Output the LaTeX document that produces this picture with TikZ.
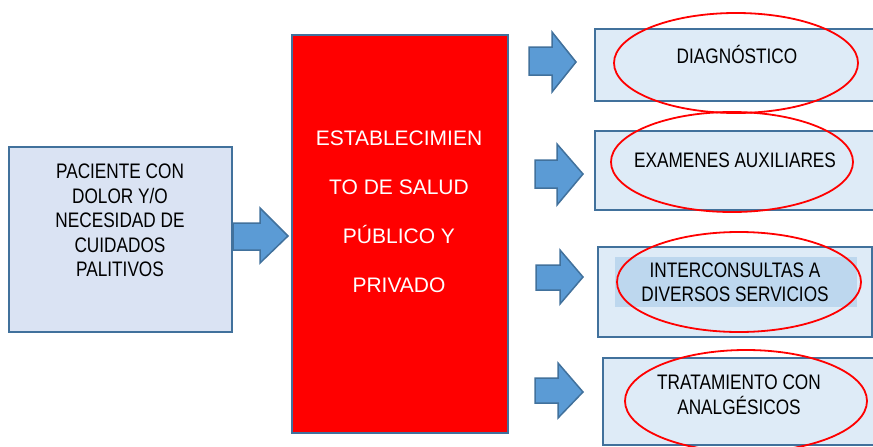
\documentclass[tikz,border=0pt]{standalone}
\usepackage{fontspec}
\setmainfont{Liberation Sans}
\newfontfamily\narrowfont[FakeStretch=0.82]{Liberation Sans}
\usetikzlibrary{shapes.geometric}
\definecolor{boxfillL}{HTML}{DAE3F3}
\definecolor{boxfillR}{HTML}{DEEBF7}
\definecolor{boxline}{HTML}{41719C}
\definecolor{arrowfill}{HTML}{5B9BD5}
\definecolor{hilite}{HTML}{BDD7EE}
\tikzset{
  bluebox/.style={draw=boxline, line width=1.8pt, rectangle, inner sep=0pt},
  redbox/.style={draw=boxline, fill=red, line width=1.2pt, rectangle, inner sep=0pt},
  oval/.style={draw=red, line width=1.8pt, ellipse, inner sep=0pt},
  narrowtxt/.style={font=\narrowfont\fontsize{21}{24.5}\selectfont, align=center, inner sep=0pt},
  redtxt/.style={font=\fontsize{21}{49}\selectfont, text=white, align=center, inner sep=0pt},
  blockarrow/.style={draw=boxline, fill=arrowfill, line width=1.5pt, line join=miter},
}
% shaft x0, shaft x1, shaft y0, shaft y1, head y0, head y1, tip x, tip y
\newcommand{\blockarr}[8]{%
  \draw[blockarrow] (#1,#3) -- (#2,#3) -- (#2,#5) -- (#7,#8) -- (#2,#6) -- (#2,#4) -- (#1,#4) -- cycle;}
\begin{document}
\begin{tikzpicture}[x=1pt,y=-1pt]
\clip (0,0) rectangle (873,447);
\fill[white] (0,0) rectangle (873,447);

% left box
\node[bluebox, fill=boxfillL, minimum width=223pt, minimum height=185pt] (pac) at (120.5,239.5) {};
\node[narrowtxt] (pactxt) at (120,220.5) {PACIENTE CON\\DOLOR Y/O\\NECESIDAD DE\\CUIDADOS\\PALITIVOS};

% red box
\node[redbox, minimum width=216pt, minimum height=398pt] (est) at (400,234) {};
\node[redtxt] (esttxt) at (399,211.5) {ESTABLECIMIEN\\TO DE SALUD\\PÚBLICO Y\\PRIVADO};

% right boxes
\node[bluebox, fill=boxfillR, minimum width=285pt, minimum height=72pt] (b1) at (737.5,65) {};
\node[bluebox, fill=boxfillR, minimum width=285pt, minimum height=79pt] (b2) at (737.5,170.5) {};
\node[bluebox, fill=boxfillR, minimum width=274pt, minimum height=90pt] (b3) at (735,292) {};
\node[bluebox, fill=boxfillR, minimum width=277pt, minimum height=87pt] (b4) at (741.5,401.5) {};
\fill[hilite] (615,257) rectangle (857,307);

% texts
\node[narrowtxt] (t1) at (737,54) {DIAGNÓSTICO};
\node[narrowtxt] (t2) at (735,160) {EXAMENES AUXILIARES};
\node[narrowtxt] (t3) at (735,282.5) {INTERCONSULTAS A\\DIVERSOS SERVICIOS};
\node[narrowtxt] (t4) at (739,395) {TRATAMIENTO CON\\ANALGÉSICOS};

% ellipses
\node[oval, minimum width=244pt, minimum height=100pt] (e1) at (736,63) {};
\node[oval, minimum width=242pt, minimum height=100pt] (e2) at (732,162) {};
\node[oval, minimum width=244pt, minimum height=100pt] (e3) at (739,282) {};
\node[oval, minimum width=242pt, minimum height=102pt] (e4) at (746,401) {};

% block arrows
\blockarr{233}{260}{223}{250}{208}{263}{288}{236}
\blockarr{529}{552}{47}{75}{32}{92}{576}{62}
\blockarr{535}{557}{160}{188}{144}{205}{583}{174}
\blockarr{536}{560}{265}{290}{250}{304}{583}{277}
\blockarr{535}{558}{378}{403}{363}{418}{583}{392}
\end{tikzpicture}
\end{document}
